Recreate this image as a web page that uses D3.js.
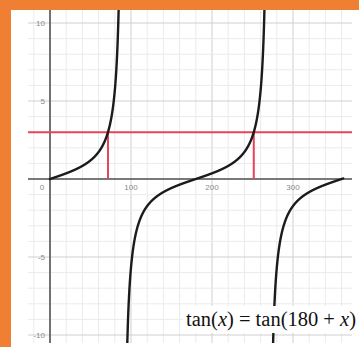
<!DOCTYPE html>
<html>
<head>
<meta charset="utf-8">
<script src="https://cdn.jsdelivr.net/npm/d3@7"></script>
<style>
  html, body { margin: 0; padding: 0; background: #fff; }
  svg { display: block; }
</style>
</head>
<body>
<svg id="chart" width="359" height="347"></svg>
<script>
// Graph of y = tan(x), x in degrees, with the level y = 3 and its two solutions
const branches = [[0, 90], [90, 270], [270, 362]];   // continuous pieces of tan(x)
const level = 3;                                      // horizontal line y = 3
const solutions = [71.57, 251.57];                    // x where tan(x) = 3
const xTickValues = [0, 100, 200, 300];
const xTickLabels = ["0", "100", "200", "300"];
const yTickValues = [10, 5, -5, -10];
const yTickLabels = ["10", "5", "-5", "-10"];
const xMinor = d3.range(-20, 361, 20);
const yMinor = d3.range(-10, 11, 1);

const W = 359, H = 347;
const svg = d3.select("#chart");

// frame
svg.append("rect").attr("width", W).attr("height", H).attr("fill", "#ee7f33");
svg.append("rect").attr("x", 11).attr("y", 10).attr("width", W - 11).attr("height", H - 10).attr("fill", "#ffffff");

const x = d3.scaleLinear().domain([0, 100]).range([50, 131]);
const y = d3.scaleLinear().domain([0, 5]).range([179, 101]);

const gx0 = 28, gx1 = 352, gy0 = 10, gy1 = 343;

svg.append("clipPath").attr("id", "plot")
  .append("rect").attr("x", 11).attr("y", 10).attr("width", W - 11).attr("height", gy1 - 10);

const grid = svg.append("g");
grid.selectAll("line.vx").data(xMinor).join("line")
  .attr("x1", d => x(d)).attr("x2", d => x(d))
  .attr("y1", gy0).attr("y2", gy1)
  .attr("stroke", d => d % 100 === 0 ? "#cfcfcf" : "#ebebeb")
  .attr("stroke-width", 1);
grid.selectAll("line.hy").data(yMinor).join("line")
  .attr("y1", d => y(d)).attr("y2", d => y(d))
  .attr("x1", gx0).attr("x2", gx1)
  .attr("stroke", d => d % 5 === 0 ? "#cfcfcf" : "#ebebeb")
  .attr("stroke-width", 1);

// axes
svg.append("line").attr("x1", gx0).attr("x2", gx1).attr("y1", y(0)).attr("y2", y(0))
  .attr("stroke", "#555").attr("stroke-width", 1.6);
svg.append("line").attr("x1", x(0)).attr("x2", x(0)).attr("y1", gy0).attr("y2", gy1)
  .attr("stroke", "#555").attr("stroke-width", 1.6);

// tick labels
const lab = svg.append("g").attr("font-family", "Liberation Sans, Arial, sans-serif")
  .attr("font-size", 8).attr("fill", "#8a8a8a");
lab.selectAll("text.yl").data(yTickValues).join("text")
  .attr("x", 45).attr("y", d => y(d) + 3)
  .attr("text-anchor", "end")
  .text((d, i) => yTickLabels[i]);
lab.selectAll("text.xl").data(xTickValues).join("text")
  .attr("x", d => d === 0 ? x(d) - 8 : x(d)).attr("y", y(0) + 11)
  .attr("text-anchor", "middle")
  .text((d, i) => xTickLabels[i]);

// red level line and solution markers
const red = "#e8435a";
svg.append("line").attr("x1", gx0).attr("x2", gx1).attr("y1", y(level)).attr("y2", y(level))
  .attr("stroke", red).attr("stroke-width", 2);
svg.selectAll("line.sol").data(solutions).join("line")
  .attr("x1", d => x(d)).attr("x2", d => x(d))
  .attr("y1", y(0)).attr("y2", y(level))
  .attr("stroke", red).attr("stroke-width", 2);

// tan curve, one path per branch
const tanDeg = d => Math.tan(d * Math.PI / 180);
const line = d3.line().x(d => x(d[0])).y(d => y(d[1]));
const curves = svg.append("g").attr("clip-path", "url(#plot)");
branches.forEach(([a, b]) => {
  const eps = 0.3;
  const lo = a === 0 ? a : a + eps;
  const hi = b > 360 ? b : b - eps;
  const pts = d3.range(lo, hi, 0.1).concat([hi]).map(t => [t, tanDeg(t)])
    .filter(p => p[1] > -11.5 && p[1] < 11.5);
  curves.append("path").attr("d", line(pts))
    .attr("fill", "none").attr("stroke", "#1b1b1b").attr("stroke-width", 2.4)
    .attr("stroke-linecap", "round");
});

// identity label
svg.append("rect").attr("x", 183).attr("y", 306).attr("width", 176).attr("height", 27).attr("fill", "#fff");
const eq = svg.append("text").attr("x", 186).attr("y", 326)
  .attr("font-family", "Liberation Serif, Times New Roman, serif")
  .attr("font-size", 20.5).attr("fill", "#111");
eq.append("tspan").text("tan(");
eq.append("tspan").attr("font-style", "italic").text("x");
eq.append("tspan").text(") = tan(180 + ");
eq.append("tspan").attr("font-style", "italic").text("x");
eq.append("tspan").text(")");
</script>
</body>
</html>
